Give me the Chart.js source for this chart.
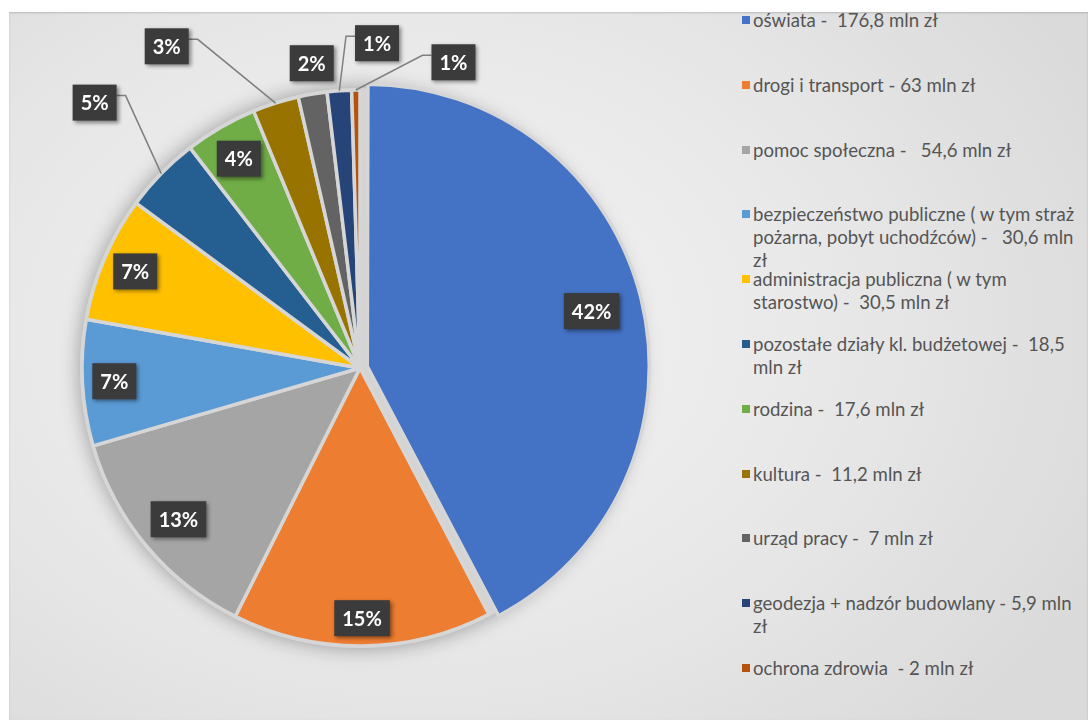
<!DOCTYPE html>
<html>
<head>
<meta charset="utf-8">
<script src="https://cdn.jsdelivr.net/npm/chart.js@4.4.0/dist/chart.umd.min.js"></script>
<style>
  html, body { margin: 0; padding: 0; width: 1088px; height: 720px; overflow: hidden; background: #fff; }
  #bg {
    position: absolute; left: 9px; top: 12px; width: 1079px; height: 708px;
    background: radial-gradient(ellipse 70% 80% at 38% 45%, #f3f3f3 0%, #e8e8e8 55%, #dadada 100%);
    box-shadow: inset 0 1px 2px rgba(0,0,0,0.18);
  }
  #wrap { position: absolute; left: 0; top: 0; width: 720px; height: 720px; }
  #legend { position: absolute; left: 740px; top: 0; width: 346px; font-family: Lato, "Open Sans", sans-serif; font-size: 18.6px; color: #555; }
  .item { position: absolute; left: 0; width: 346px; line-height: 23px; white-space: pre-wrap; padding-left: 13px; box-sizing: border-box; }
  .sw { position: absolute; left: 2px; top: 7px; width: 8px; height: 8px; }
</style>
</head>
<body>
<div id="bg"></div>
<div id="wrap"><canvas id="myChart" width="720" height="720"></canvas></div>
<div id="legend"></div>
<script>
// budget categories (legend text) and values in mln zł
var categories = [
  "oświata -  176,8 mln zł",
  "drogi i transport - 63 mln zł",
  "pomoc społeczna -   54,6 mln zł",
  "bezpieczeństwo publiczne ( w tym straż pożarna, pobyt uchodźców) -   30,6 mln zł",
  "administracja publiczna ( w tym starostwo) -  30,5 mln zł",
  "pozostałe działy kl. budżetowej -  18,5 mln zł",
  "rodzina -  17,6 mln zł",
  "kultura -  11,2 mln zł",
  "urząd pracy -  7 mln zł",
  "geodezja + nadzór budowlany - 5,9 mln zł",
  "ochrona zdrowia  - 2 mln zł"
];
var values = [176.8, 63, 54.6, 30.6, 30.5, 18.5, 17.6, 11.2, 7, 5.9, 2];
var pctLabels = ["42%", "15%", "13%", "7%", "7%", "5%", "4%", "3%", "2%", "1%", "1%"];
var colors = ["#4472C4", "#ED7D31", "#A5A5A5", "#5B9BD5", "#FFC000", "#255E91",
              "#70AD47", "#997300", "#636363", "#264478", "#B5520F"];

// where each percentage box goes: inside (r = fraction of radius on mid angle)
// or outside (deg from top, r) with a leader line
var labelSpots = [
  {r: 0.8}, {r: 0.9}, {r: 0.85}, {r: 0.885}, {r: 0.88},
  {deg: 315, r: 1.35, line: true}, {r: 0.87}, {deg: 329, r: 1.35, line: true},
  {deg: 351, r: 1.11}, {deg: 3, r: 1.17, line: true}, {deg: 17, r: 1.15, line: true}
];

var pieDecor = {
  id: 'pieDecor',
  beforeDatasetsDraw: function(chart) {
    var ctx = chart.ctx;
    var a = chart.getDatasetMeta(0).data[1];
    ctx.save();
    ctx.shadowColor = 'rgba(0,0,0,0.35)';
    ctx.shadowBlur = 20;
    ctx.beginPath();
    ctx.arc(a.x, a.y, a.outerRadius + 2, 0, Math.PI * 2);
    ctx.fillStyle = '#d4d4d4';
    ctx.fill();
    ctx.restore();
  },
  afterDatasetsDraw: function(chart) {
    var ctx = chart.ctx;
    var arcs = chart.getDatasetMeta(0).data;
    var offs = chart.data.datasets[0].offset;
    ctx.save();
    ctx.font = 'bold 20px Lato, "Open Sans", sans-serif';
    arcs.forEach(function(arc, i) {
      var spot = labelSpots[i];
      var mid = (arc.startAngle + arc.endAngle) / 2;
      var R = arc.outerRadius;
      // same shift that the arc element applies for its offset
      var off = offs[i] * (1 - Math.sin(Math.min(Math.PI, arc.circumference)));
      var cx = arc.x + Math.cos(mid) * off;
      var cy = arc.y + Math.sin(mid) * off;
      var ang = spot.deg !== undefined ? (spot.deg - 90) * Math.PI / 180 : mid;
      var bx = cx + Math.cos(ang) * R * spot.r;
      var by = cy + Math.sin(ang) * R * spot.r;
      var w = ctx.measureText(pctLabels[i]).width + 16, h = 36;
      if (spot.line) {
        var px = cx + Math.cos(mid) * R, py = cy + Math.sin(mid) * R;
        var ex = px < bx ? bx - w / 2 : bx + w / 2;
        var kx = px < bx ? ex - 9 : ex + 9;
        var ly = by - 7;
        ctx.strokeStyle = '#7f7f7f';
        ctx.lineWidth = 1.5;
        ctx.beginPath();
        ctx.moveTo(px, py);
        ctx.lineTo(kx, ly);
        ctx.lineTo(ex, ly);
        ctx.stroke();
      }
      ctx.save();
      ctx.shadowColor = 'rgba(0,0,0,0.45)';
      ctx.shadowBlur = 4;
      ctx.shadowOffsetX = 2;
      ctx.shadowOffsetY = 2;
      ctx.fillStyle = '#3b3b3b';
      ctx.fillRect(bx - w / 2, by - h / 2, w, h);
      ctx.restore();
      ctx.fillStyle = '#ffffff';
      ctx.textAlign = 'center';
      ctx.textBaseline = 'middle';
      ctx.fillText(pctLabels[i], bx, by + 1);
    });
    ctx.restore();
  }
};

var ctx = document.getElementById('myChart').getContext('2d');
var chart = new Chart(ctx, {
    type: 'pie',
    data: {
        labels: categories,
        datasets: [{
            data: values,
            backgroundColor: colors,
            borderColor: '#d6d6d6',
            borderWidth: 3.5,
            offset: [30, 0, 0, 0, 0, 0, 0, 0, 0, 0, 0],
            radius: 278
        }]
    },
    options: {
        responsive: false,
        animation: false,
        layout: { padding: { top: 16 } },
        plugins: {
            legend: { display: false },
            tooltip: { enabled: false }
        }
    },
    plugins: [pieDecor]
});

// legend on the right, one slot per category
var legend = document.getElementById('legend');
categories.forEach(function(c, i) {
    var d = document.createElement('div');
    d.className = 'item';
    d.style.top = (9 + i * 64.8) + 'px';
    d.innerHTML = '<span class="sw" style="background:' + colors[i] + '"></span>';
    d.appendChild(document.createTextNode(c));
    legend.appendChild(d);
});
</script>
</body>
</html>
